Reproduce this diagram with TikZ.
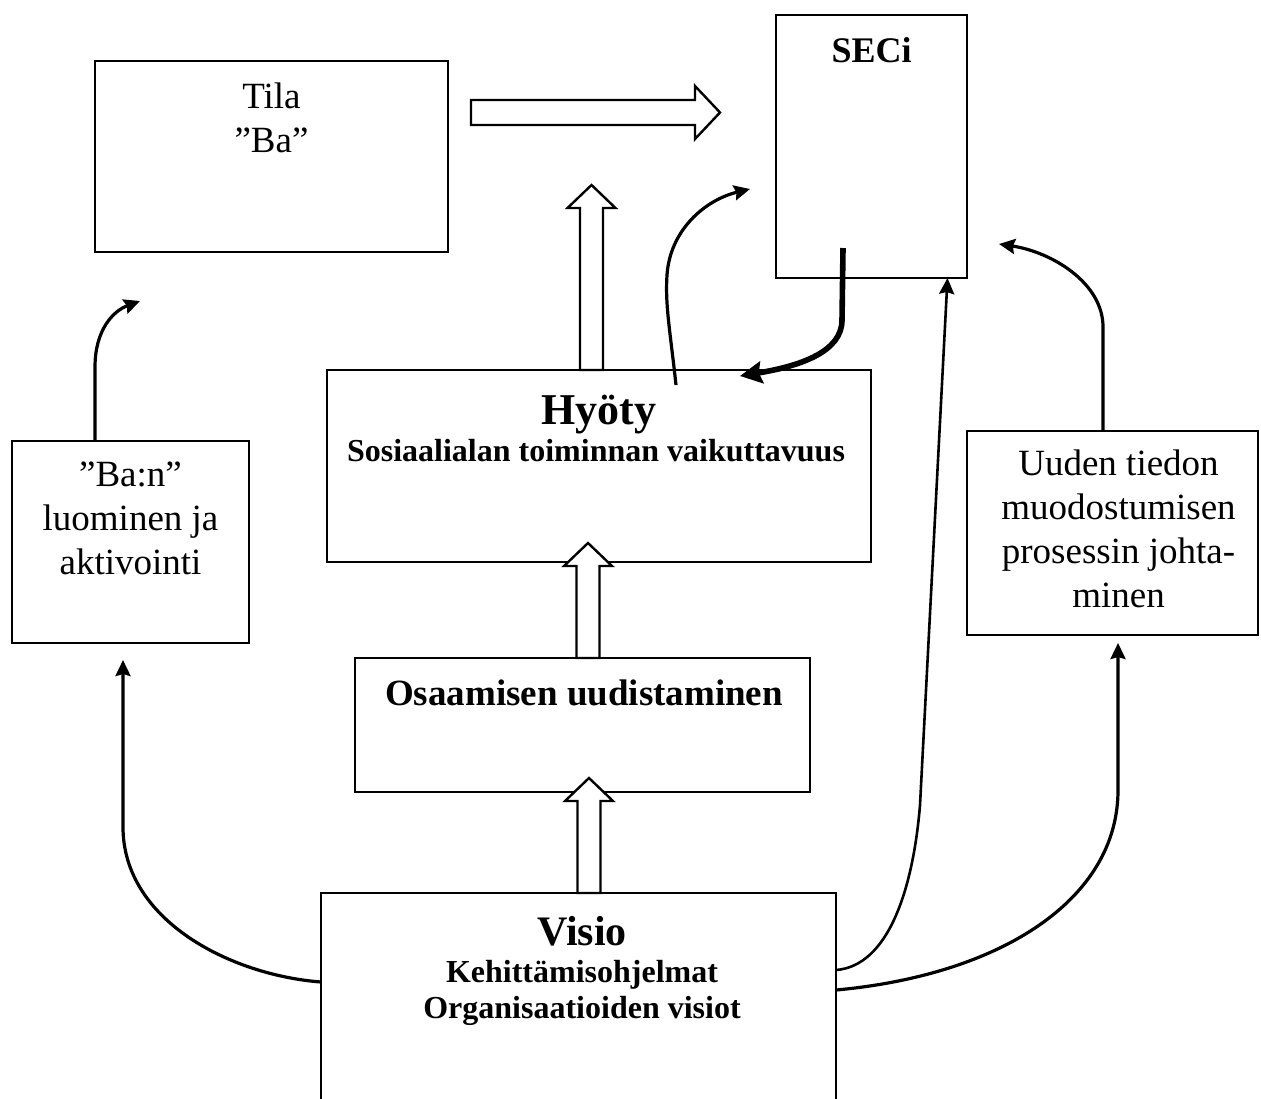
\documentclass[tikz,border=0pt]{standalone}
\usepackage{fontspec}
\setmainfont{Liberation Serif}
\usetikzlibrary{arrows.meta,positioning}
\def\blockup(#1:#2:#3){\draw[blockarr] (#1-11.5,#2) -- (#1-11.5,#3+23) -- (#1-24,#3+23) -- (#1,#3) -- (#1+24,#3+23) -- (#1+11.5,#3+23) -- (#1+11.5,#2) -- cycle;}

\begin{document}
\begin{tikzpicture}[x=0.5pt, y=-0.5pt,
		box/.style 2 args={draw, line width=1pt, inner sep=0pt, outer sep=0pt, minimum width=#1*0.5pt, minimum height=#2*0.5pt},
		txt/.style={align=center, inner sep=0pt, font=\fontsize{18.5}{22}\selectfont},
		headtxt/.style={inner sep=0pt, anchor=base, font=\fontsize{22}{24}\selectfont\bfseries},
		subtxt/.style={align=center, inner sep=0pt, font=\fontsize{16}{18}\selectfont\bfseries},
		curv/.style={line width=1.6pt, -{Stealth[length=8pt, width=7.5pt, inset=1pt]}},
		thickcurv/.style={line width=2.8pt, -{Stealth[length=11pt, width=11pt, inset=1.5pt]}},
		blockarr/.style={draw, fill=white, line width=1.2pt}]
			%%%%% START %%%%%
			\clip (0, 0) rectangle (1261, 1098);
			
			% boxes
			\node[box={353}{191}] (tila) at (271.5, 156.5) {};
			\node[box={191}{263}] (seci) at (871.5, 146.5) {};
			\node[box={544}{192}] (hyoty) at (599, 466) {};
			\node[box={237}{202}] (ban) at (130.5, 542) {};
			\node[box={291}{204}] (uuden) at (1112.5, 533) {};
			\node[box={455}{134}] (osaa) at (582.5, 725) {};
			\node[box={515}{257}] (visio) at (578.5, 1021.5) {};
			
			% texts
			\node[txt, below=10.5pt of tila.north] (tilatxt) {Tila\\”Ba”};
			\node[headtxt, font=\fontsize{18}{22}\selectfont\bfseries] (secitxt) at (871.5, 62) {SECi};
			\node[headtxt] (hyotitle) at (599, 424) {Hyöty};
			\node[subtxt, anchor=base] (hyosub) at (596, 461) {Sosiaalialan toiminnan vaikuttavuus};
			\node[txt, below=10pt of ban.north] (bantxt) {”Ba:n”\\luominen ja\\aktivointi};
			\node[txt, below=9pt of uuden.north, xshift=3pt] (uudentxt) {Uuden tiedon\\muodostumisen\\prosessin johta-\\minen};
			\node[headtxt, font=\fontsize{18.5}{22}\selectfont\bfseries] (osaatxt) at (584, 705) {Osaamisen uudistaminen};
			\node[headtxt, font=\fontsize{21}{24}\selectfont\bfseries] (visiotitle) at (582, 945) {Visio};
			\node[subtxt, below=7.5pt of visiotitle.base] (visiosub) {Kehittämisohjelmat\\Organisaatioiden visiot};
			
			% free arrow ends
			\coordinate (tilain) at (140, 301);
			\coordinate (banin) at (123, 660);
			\coordinate (uudin) at (1118, 643);
			\coordinate (seciin) at (999, 244);
			\coordinate (seciin2) at (750, 189);
			\coordinate (hyotyin) at (740, 376);
			
			% block arrows
			\draw[blockarr] (471, 100) -- (695, 100) -- (695, 86) -- (720, 112.5) -- (695, 139) -- (695, 125) -- (471, 125) -- cycle;
			\blockup(591.5:370:185)
			\blockup(588:658:543)
			\blockup(589:893:778)
			
			% curved arrows
			\draw[curv] ([xshift=-17.75pt]ban.north) -- (95, 367) .. controls (95, 330) and (113, 311) .. (tilain);
			\draw[curv] ([yshift=-44.5pt]visio.north west) .. controls (230, 975) and (123, 920) .. (123, 827) -- (banin);
			\draw[curv, line width=1.3pt] ([yshift=-38.5pt]visio.north east) .. controls (888, 966) and (913, 890) .. (920, 805) -- ([xshift=38pt]seci.south);
			\draw[curv] ([yshift=-48.5pt]visio.north east) .. controls (1000, 975) and (1118, 900) .. (1118, 790) -- (uudin);
			\draw[curv] ([xshift=-4.75pt]uuden.north) -- (1103, 327) .. controls (1103, 283) and (1052, 252) .. (seciin);
			\draw[curv] ([xshift=38.5pt, yshift=-7.5pt]hyoty.north) .. controls (670, 330) and (665, 305) .. (667, 275) .. controls (670, 230) and (705, 200) .. (seciin2);
			\draw[thickcurv] ([xshift=-14.25pt, yshift=15pt]seci.south) -- (842, 320) .. controls (842, 352) and (800, 366) .. (hyotyin);
			
			%%%%% END %%%%%
\end{tikzpicture}
\end{document}
